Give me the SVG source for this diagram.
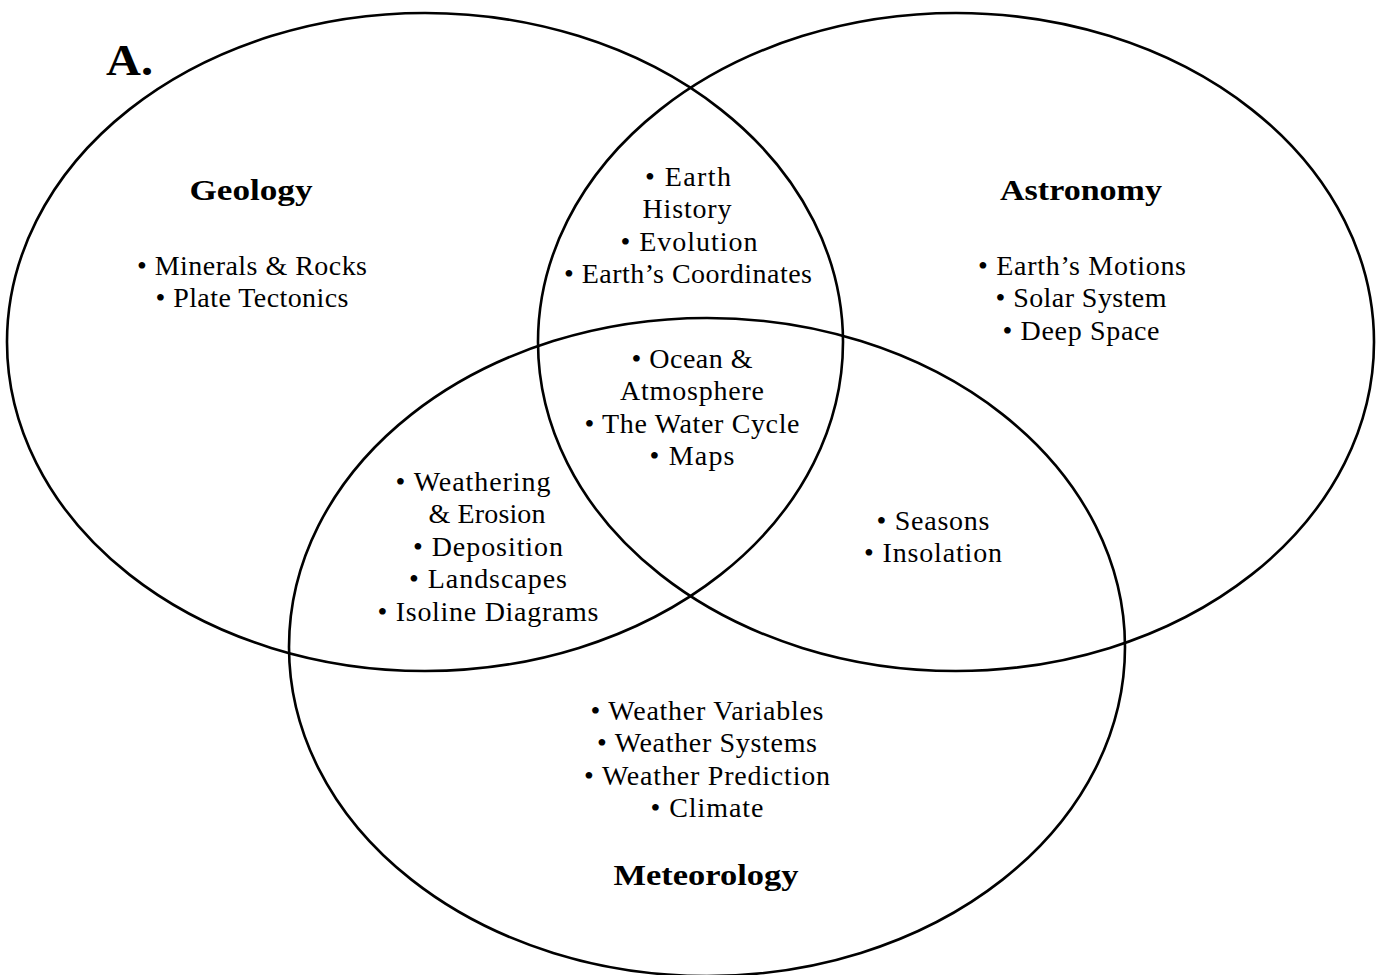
<svg xmlns="http://www.w3.org/2000/svg" width="1380" height="975" viewBox="0 0 1380 975">
<style>
.c{fill:none;stroke:#000;stroke-width:2.6}
text{font-family:"Liberation Serif","Times New Roman",serif;font-size:28px;fill:#000;text-anchor:middle}
.h{font-weight:bold;font-size:30px}
.a{font-weight:bold;font-size:44px;text-anchor:start}
</style>
<rect width="1380" height="975" fill="#fff"/>
<g id="geology">
<ellipse class="c" cx="425" cy="342" rx="418" ry="329"/>
<text class="h" x="251" y="200" textLength="123" lengthAdjust="spacingAndGlyphs">Geology</text>
<text x="252" y="275" textLength="230">• Minerals &amp; Rocks</text>
<text x="252" y="307" textLength="193">• Plate Tectonics</text>
</g>
<g id="astronomy">
<ellipse class="c" cx="956" cy="342" rx="418" ry="329"/>
<text class="h" x="1081" y="200" textLength="162" lengthAdjust="spacingAndGlyphs">Astronomy</text>
<text x="1082" y="275" textLength="208">• Earth’s Motions</text>
<text x="1081" y="307" textLength="171">• Solar System</text>
<text x="1081" y="340" textLength="157">• Deep Space</text>
</g>
<g id="meteorology">
<ellipse class="c" cx="707" cy="647" rx="418" ry="329"/>
<text class="h" x="706" y="885" textLength="185" lengthAdjust="spacingAndGlyphs">Meteorology</text>
<text x="707" y="720" textLength="233">• Weather Variables</text>
<text x="707" y="752" textLength="220">• Weather Systems</text>
<text x="707" y="785" textLength="246">• Weather Prediction</text>
<text x="707" y="817" textLength="113">• Climate</text>
</g>
<g id="geo-astro">
<text x="688" y="186" textLength="86">• Earth</text>
<text x="687" y="218" textLength="89">History</text>
<text x="689" y="251" textLength="137">• Evolution</text>
<text x="688" y="283" textLength="248">• Earth’s Coordinates</text>
</g>
<g id="all-three">
<text x="692" y="368" textLength="121">• Ocean &amp;</text>
<text x="692" y="400" textLength="144">Atmosphere</text>
<text x="692" y="433" textLength="215">• The Water Cycle</text>
<text x="692" y="465" textLength="85">• Maps</text>
</g>
<g id="geo-meteo">
<text x="473" y="491" textLength="155">• Weathering</text>
<text x="487" y="523" textLength="117">&amp; Erosion</text>
<text x="488" y="556" textLength="150">• Deposition</text>
<text x="488" y="588" textLength="158">• Landscapes</text>
<text x="488" y="621" textLength="221">• Isoline Diagrams</text>
</g>
<g id="astro-meteo">
<text x="933" y="530" textLength="113">• Seasons</text>
<text x="933" y="562" textLength="138">• Insolation</text>
</g>
<g id="label">
<text class="a" x="106" y="75" textLength="47" lengthAdjust="spacingAndGlyphs">A.</text>
</g>
<g id="connectors"></g>
</svg>
